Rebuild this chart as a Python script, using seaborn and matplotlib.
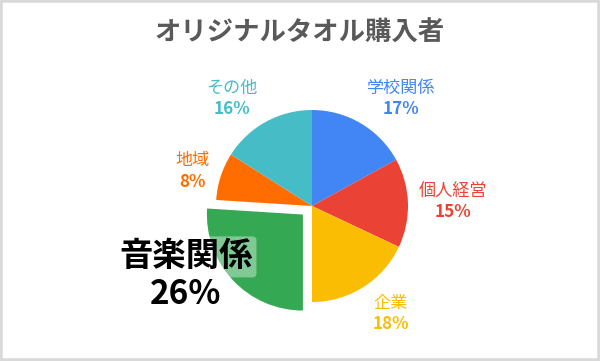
import numpy as np
import matplotlib
matplotlib.use("Agg")
import matplotlib.pyplot as plt
from matplotlib.patches import Rectangle
import seaborn as sns

sns.set_theme(style="white")
plt.rcParams['font.family'] = ['Noto Sans CJK JP', 'DejaVu Sans']

title = "オリジナルタオル購入者"
categories = ["学校関係", "個人経営", "企業", "音楽関係", "地域", "その他"]
values = [17, 15, 18, 26, 8, 16]
colors = sns.color_palette(["#4285F4", "#EA4335", "#FBBC04", "#34A853", "#FF6D01", "#46BDC6"])
highlight = "音楽関係"

W, H = 600, 361
R_PX = 96.0
CX, CY = 312.0, 206.0  # pixel position of pie centre (from top-left)

fig = plt.figure(figsize=(W / 100, H / 100), dpi=100)
ax = fig.add_axes([0, 0, 1, 1])

explode = [0.13 if c == highlight else 0 for c in categories]
wedges, _ = ax.pie(values, colors=colors, startangle=90, counterclock=False,
                   explode=explode, radius=1.0,
                   wedgeprops=dict(linewidth=0))

ax.set_xlim(-CX / R_PX, (W - CX) / R_PX)
ax.set_ylim(-(H - CY) / R_PX, CY / R_PX)
ax.set_aspect('auto')
ax.axis('off')

# label placement: (radial distance, angular shift in degrees) relative to wedge mid-angle
label_layout = {"学校関係": (1.458, -8.9), "個人経営": (1.47, 0.2), "企業": (1.387, 4.0),
                "地域": (1.293, 1.6), "その他": (1.40, 7.7), "音楽関係": (1.50, -14.5)}
line_gap = 0.22
for w, cat, val, col in zip(wedges, categories, values, colors):
    d, shift = label_layout[cat]
    mid = np.deg2rad((w.theta1 + w.theta2) / 2 + shift)
    x, y = d * np.cos(mid), d * np.sin(mid)
    if cat == highlight:
        glow = dict(boxstyle='round,pad=0.12', facecolor=(1, 1, 1, 0.38), edgecolor='none')
        ax.text(x, y + 0.19, cat, ha='center', va='center', fontsize=24,
                fontweight='bold', color='black', bbox=glow)
        ax.text(x, y - 0.2, f"{val}%", ha='center', va='center', fontsize=24,
                fontweight='bold', color='black')
        continue
    ax.text(x, y + line_gap / 2, cat, ha='center', va='center', fontsize=12.3,
            color=col)
    ax.text(x, y - line_gap / 2, f"{val}%", ha='center', va='center', fontsize=12.3,
            fontweight='bold', color=col)

fig.text(0.5, 1 - 33 / H, title, ha='center', va='center', fontsize=19,
         fontweight='bold', color='#595959')

fig.patches.append(Rectangle((0, 0), 1, 1, transform=fig.transFigure,
                             fill=False, edgecolor='#d9d9d9', linewidth=4))

fig.savefig("out.png", dpi=100)
